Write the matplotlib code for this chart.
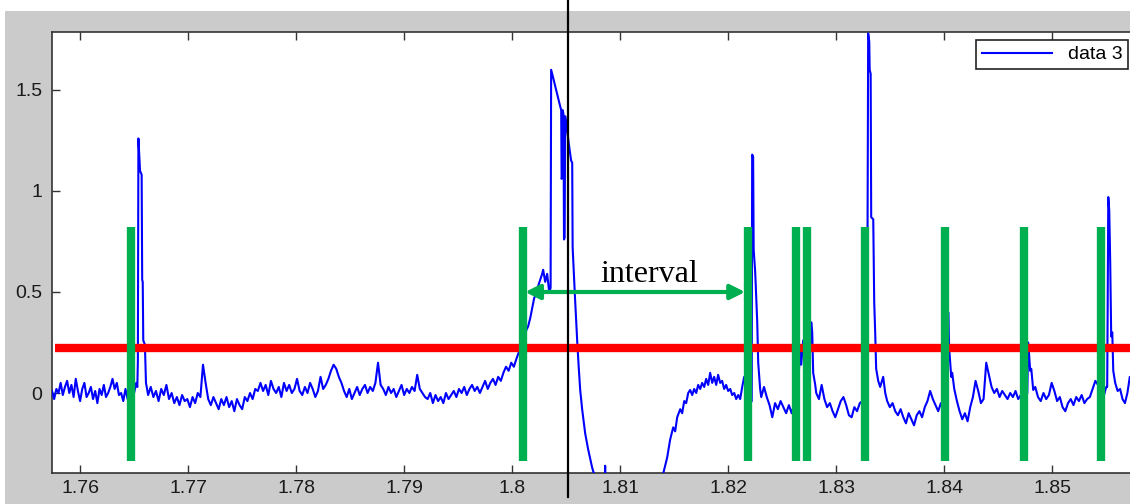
import numpy as np
import matplotlib
matplotlib.use("Agg")
import matplotlib.pyplot as plt
from matplotlib.lines import Line2D
from matplotlib.patches import Rectangle

# ---- data ----
# baseline stretches: (start, end) and the sampled values between them
seg1_span = (1.7574, 1.7652)
seg1_v = [0.01, -0.03, 0.02, 0.00, 0.05, -0.01, 0.03, 0.06, 0.00, 0.04, -0.02, 0.07, 0.01,
          -0.04, 0.02, 0.05, -0.02, 0.00, 0.03, -0.03, 0.01, -0.05, 0.02, -0.01, 0.04, -0.02,
          0.00, 0.03, 0.07, 0.02, 0.05, -0.01, 0.00, -0.04, 0.02, -0.03, 0.01, 0.03, 0.00, 0.05]

spike1_t = [1.7653, 1.76535, 1.7654, 1.76555, 1.7657, 1.76575, 1.7658, 1.76585, 1.7660, 1.7661, 1.7662]
spike1_v = [0.03, 0.16, 1.26, 1.10, 1.08, 0.56, 0.55, 0.26, 0.24, 0.05, 0.02]

seg2_span = (1.7663, 1.8004)
seg2_v = [-0.01, 0.03, -0.02, 0.01, -0.04, 0.02, -0.01, 0.04,
          -0.03, 0.00, -0.05, -0.02, -0.06, -0.01, -0.04, -0.03, -0.07, -0.02, -0.05, 0.00,
          -0.02, 0.14, 0.05,
          -0.03, -0.06, -0.02, -0.05, -0.08, -0.03, -0.06, -0.02, -0.07, -0.04, -0.09, -0.03,
          -0.06, -0.08, -0.02,
          -0.04, 0.00, -0.03, 0.02, 0.01, 0.05,
          0.01, 0.04, -0.01, 0.06, 0.02, 0.00, 0.03, -0.02, 0.05, 0.01, 0.04, 0.00, 0.02, 0.07,
          0.01, -0.01, 0.03, 0.00, 0.05, 0.02, -0.02, 0.01, 0.08, 0.02, 0.04, 0.07, 0.11,
          0.14, 0.12, 0.08, 0.05,
          0.01, -0.02, 0.02, -0.03, 0.00, 0.03, -0.01, 0.02, 0.04, 0.00, 0.03, 0.01, 0.05,
          0.15, 0.04,
          0.02, -0.01, 0.03, 0.00, 0.02, -0.02, 0.01, 0.04, -0.01, 0.02, 0.00, 0.03, 0.01, 0.09,
          0.02, 0.00, -0.02,
          -0.03, 0.00, -0.05, -0.01, -0.04, -0.02, -0.05, 0.00, -0.03, -0.01,
          0.01, -0.02, 0.02, 0.00, 0.03, -0.01, 0.02, 0.04, 0.01, 0.03, 0.00,
          0.03, 0.06, 0.02, 0.05, 0.07, 0.04, 0.08, 0.06,
          0.10, 0.13, 0.11, 0.15, 0.13, 0.17]

burst_t = [1.80074, 1.80093, 1.80111, 1.80130, 1.80148, 1.80167, 1.80185, 1.80204, 1.80222,
           1.80241, 1.80259, 1.80278, 1.80287, 1.80306, 1.80324, 1.80343, 1.80356, 1.80361,
           1.80380, 1.80407, 1.80435, 1.80454, 1.80458, 1.80463, 1.80468, 1.80475, 1.80480,
           1.80486, 1.80491, 1.80509, 1.80528, 1.80546, 1.80556, 1.80560, 1.80583, 1.80602,
           1.80616, 1.80630, 1.80648, 1.80676, 1.80704, 1.80741, 1.80769, 1.80815, 1.80852,
           1.80861, 1.80870, 1.81000, 1.81185, 1.81324, 1.81398, 1.81435, 1.81463, 1.81491,
           1.81509, 1.81528, 1.81556, 1.81574, 1.81593, 1.81611, 1.81630, 1.81648, 1.81667,
           1.81685, 1.81704, 1.81722, 1.81741, 1.81759, 1.81778, 1.81796, 1.81815, 1.81833,
           1.81852, 1.81870, 1.81889, 1.81907, 1.81926, 1.81944, 1.81963, 1.81981, 1.82000,
           1.82019, 1.82037, 1.82056, 1.82074, 1.82093, 1.82111, 1.82130, 1.82148, 1.82167,
           1.82185, 1.82204, 1.82218, 1.82222, 1.82231, 1.82236, 1.82250, 1.82269, 1.82278,
           1.82296]
burst_v = [0.22, 0.26, 0.24, 0.31, 0.33, 0.37, 0.42, 0.47, 0.49,
           0.53, 0.56, 0.59, 0.61, 0.55, 0.59, 0.50, 0.52, 1.60,
           1.56, 1.50, 1.44, 1.40, 1.06, 1.07, 1.40, 1.38, 0.76,
           0.77, 1.37, 1.30, 1.22, 1.15, 1.14, 0.72, 0.46, 0.26,
           0.13, 0.015, -0.08, -0.20, -0.28, -0.37, -0.42, -0.55, -0.62,
           -0.36, -0.63, -0.72, -0.68, -0.52, -0.40, -0.32, -0.23, -0.17,
           -0.19, -0.12, -0.08, -0.10, -0.04, -0.05, 0.00, 0.015, -0.01,
           0.02, 0.00, 0.04, 0.02, 0.05, 0.03, 0.07, 0.04, 0.10,
           0.05, 0.08, 0.04, 0.09, 0.05, 0.06, 0.02, 0.04, 0.01,
           0.02, -0.01, 0.00, -0.03, -0.01, -0.03, 0.03, 0.08, 0.02,
           0.06, -0.05, -0.04, 1.18, 1.17, 0.71, 0.60, 0.35, 0.15,
           0.02]

seg3_span = (1.82306, 1.82639)
seg3_v = [-0.02, 0.03, -0.02, -0.06, -0.12, -0.05, -0.08, -0.04, -0.07, -0.10, -0.06, -0.10, -0.05, -0.03]

bump_t = [1.82648, 1.82667, 1.82676, 1.82694, 1.82713, 1.82731, 1.82750, 1.82769, 1.82778, 1.82787, 1.82806]
bump_v = [0.05, 0.22, 0.14, 0.26, 0.18, 0.24, 0.12, 0.35, 0.30, 0.10, 0.04]

seg4_span = (1.82815, 1.83269)
seg4_v = [0.00, -0.03, 0.04, -0.03, -0.07, -0.05, -0.09, -0.12, -0.08, -0.04, -0.02, -0.06,
          -0.11, -0.12, -0.07, -0.09, -0.05, -0.04, 0.00]

spike2_t = [1.83278, 1.83287, 1.83296, 1.83306, 1.83310, 1.83319, 1.83324, 1.83343, 1.83352,
            1.83361, 1.83370, 1.83389, 1.83407, 1.83435, 1.83454]
spike2_v = [0.02, 0.25, 1.78, 1.74, 1.60, 1.58, 0.87, 0.86, 0.45, 0.30, 0.12, 0.06, 0.03, 0.08, 0.00]

seg5_span = (1.83472, 1.84019)
seg5_v = [-0.04, -0.07, -0.05, -0.09, -0.11, -0.08, -0.12, -0.15, -0.10, -0.13, -0.16, -0.11,
          -0.09, -0.12, -0.07, -0.04, 0.01, -0.03, -0.06, -0.09, -0.05, -0.08, -0.06]

spike3_t = [1.84028, 1.84037, 1.84046, 1.84065, 1.84074]
spike3_v = [-0.02, 0.40, 0.22, 0.08, 0.10]

seg6_span = (1.84093, 1.84759)
seg6_v = [0.02, -0.04, -0.09, -0.13, -0.10, -0.14, -0.07, -0.02, 0.06, 0.01, -0.05, -0.03,
          0.15, 0.09, 0.03, 0.00, 0.02, -0.02, 0.01, -0.01, -0.03, 0.00, -0.02, 0.01, -0.03,
          -0.01, -0.04, -0.02]

spike4_t = [1.84769, 1.84778, 1.84796, 1.84806, 1.84824]
spike4_v = [0.00, 0.25, 0.11, 0.12, 0.015]

seg7_span = (1.84843, 1.85500)
seg7_v = [0.03, -0.02, -0.04, 0.00, -0.03, -0.01, 0.05, 0.01, -0.04, -0.02, -0.07, -0.09,
          -0.05, -0.03, -0.06, -0.02, -0.04, -0.01, -0.05, -0.03, -0.02, 0.02, 0.06, 0.04,
          -0.05, -0.02, 0.03]

spike5_t = [1.85509, 1.85519, 1.85528, 1.85537, 1.85546, 1.85556, 1.85565]
spike5_v = [0.03, 0.97, 0.90, 0.64, 0.28, 0.30, 0.11]

seg8_span = (1.85583, 1.85741)
seg8_v = [0.05, 0.01, 0.02, -0.03, -0.05, 0.00, 0.08, 0.03]

threshold = 0.223
marker_t = [1.76472, 1.80102, 1.82181, 1.82630, 1.82731, 1.83269, 1.84009, 1.84741, 1.85454]
marker_lo, marker_hi = -0.337, 0.82
interval_start, interval_end = 1.80120, 1.82157
interval_y = 0.5

x_ticks = [1.76, 1.77, 1.78, 1.79, 1.80, 1.81, 1.82, 1.83, 1.84, 1.85]
x_labels = ["1.76", "1.77", "1.78", "1.79", "1.8", "1.81", "1.82", "1.83", "1.84", "1.85"]
y_ticks = [0, 0.5, 1, 1.5]
y_labels = ["0", "0.5", "1", "1.5"]


def stretch(span, vals):
    return np.linspace(span[0], span[1], len(vals))


t = np.concatenate([stretch(seg1_span, seg1_v), spike1_t, stretch(seg2_span, seg2_v), burst_t,
                    stretch(seg3_span, seg3_v), bump_t, stretch(seg4_span, seg4_v), spike2_t,
                    stretch(seg5_span, seg5_v), spike3_t, stretch(seg6_span, seg6_v), spike4_t,
                    stretch(seg7_span, seg7_v), spike5_t, stretch(seg8_span, seg8_v)])
v = np.concatenate([seg1_v, spike1_v, seg2_v, burst_v, seg3_v, bump_v, seg4_v, spike2_v,
                    seg5_v, spike3_v, seg6_v, spike4_v, seg7_v, spike5_v, seg8_v])

W, H = 1130, 504
fig = plt.figure(figsize=(W / 100, H / 100), dpi=100, facecolor="white")

# matlab-style grey figure panel, kept behind the axes
fig.patches.append(Rectangle((5 / W, 0), 1 - 5 / W, 1 - 11 / H, transform=fig.transFigure,
                             facecolor="#cbcbcb", edgecolor="none", zorder=-10))

ax = fig.add_axes([52 / W, 31 / H, 1 - 52 / W, (473 - 32) / H])
ax.set_zorder(1)
ax.set_facecolor("white")

ax.plot(t, v, color="#0000ff", lw=1.5, label="data 3", zorder=3)
ax.hlines(threshold, 1.7577, 1.87, color="#ff0000", lw=6, zorder=4)
ax.vlines(marker_t, marker_lo, marker_hi, color="#00b050", lw=6, zorder=5)

ax.annotate("", xy=(interval_end, interval_y), xytext=(interval_start, interval_y),
            arrowprops=dict(arrowstyle="<|-|>", color="#00b050", lw=3,
                            mutation_scale=22, shrinkA=0, shrinkB=0), zorder=6)
ax.text((interval_start + interval_end) / 2 + 0.0013, 0.55, "interval", ha="center",
        va="baseline", fontsize=23, family="Liberation Serif", color="black", zorder=6)

ax.set_xlim(1.7574, 1.8572)
ax.set_ylim(-0.396, 1.787)
ax.set_xticks(x_ticks)
ax.set_xticklabels(x_labels)
ax.set_yticks(y_ticks)
ax.set_yticklabels(y_labels)
ax.tick_params(direction="in", length=6, width=1, color="#333333", labelsize=14,
               labelcolor="#1a1a1a", top=True, right=False)
ax.tick_params(axis="x", pad=5)
ax.tick_params(axis="y", pad=7)
for lab in ax.get_xticklabels() + ax.get_yticklabels():
    lab.set_family("Liberation Sans")
for side in ("left", "top", "bottom"):
    ax.spines[side].set_color("#333333")
    ax.spines[side].set_linewidth(1.2)
ax.spines["right"].set_visible(False)

leg = ax.legend(loc="upper right", bbox_to_anchor=(1128 / W, 1 - 40 / H),
                bbox_transform=fig.transFigure, borderaxespad=0, fancybox=False,
                framealpha=1, edgecolor="#222222", handlelength=3.6, borderpad=0.3,
                prop={"family": "Liberation Sans", "size": 14})
leg.get_frame().set_linewidth(1.2)
leg.set_zorder(10)

# black cursor line crossing the whole screenshot
fig.lines.append(Line2D([568 / W, 568 / W], [7 / H, 1.0], transform=fig.transFigure,
                        color="black", lw=1.6, zorder=20))

fig.savefig("out.png", dpi=100, facecolor=fig.get_facecolor())
